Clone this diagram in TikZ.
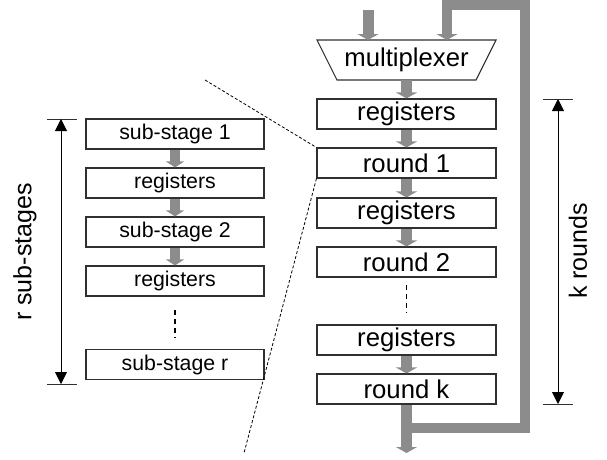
\documentclass[tikz,border=0pt]{standalone}
\usepackage{fontspec}
\setmainfont{Liberation Sans}
\usetikzlibrary{arrows.meta}
\definecolor{pipegray}{HTML}{8C8C8C}
\definecolor{boxline}{HTML}{303030}
\tikzset{
  bigbox/.style={draw=boxline, line width=1.1pt, minimum width=179pt, minimum height=30pt, inner sep=0pt, font=\fontsize{25.7}{30}\selectfont},
  smallbox/.style={draw=boxline, line width=1.1pt, minimum width=178pt, minimum height=30pt, inner sep=0pt, font=\fontsize{21.3}{25}\selectfont},
  bigflow/.style={draw=pipegray, line width=11pt, -{Triangle[width=21pt,length=6pt]}},
  smallflow/.style={draw=pipegray, line width=10pt, -{Triangle[width=18pt,length=6pt]}},
  pipe/.style={draw=pipegray, line width=10pt, line join=miter},
  dimline/.style={draw=black, line width=0.9pt, {Triangle[width=12pt,length=12pt]}-{Triangle[width=12pt,length=12pt]}},
  tick/.style={draw=boxline, line width=1pt},
  zoomline/.style={draw=black, line width=0.8pt, dash pattern=on 3pt off 2pt},
  dotsline/.style={draw=black, line width=1.8pt, dash pattern=on 5pt off 4pt},
  dimtext/.style={rotate=90, inner sep=0pt, font=\fontsize{25}{30}\selectfont}
}
\begin{document}
\begin{tikzpicture}[x=1pt,y=-1pt]
\useasboundingbox (0,0) rectangle (607,459);

% ---------- right column ----------
\draw[line width=1.1pt, draw=boxline] (317,40) -- (496,40) -- (476,80) -- (337,80) -- cycle;
\node[inner sep=0pt, minimum width=179pt, minimum height=40pt, font=\fontsize{25.7}{30}\selectfont] (mux) at (406.5,60) {multiplexer};
\node[bigbox] (rreg1) at (406.5,114) {registers};
\node[bigbox] (round1) at (406.5,163) {round 1};
\node[bigbox] (rreg2) at (406.5,213) {registers};
\node[bigbox] (round2) at (406.5,262) {round 2};
\node[bigbox] (rreg3) at (406.5,340) {registers};
\node[bigbox] (roundk) at (406.5,389) {round k};

\coordinate (rdotsA) at (406.5,285);
\coordinate (rdotsB) at (406.5,313);
\draw[dotsline] (rdotsA) -- (rdotsB);

\coordinate (inA) at (368,10);
\coordinate (inB) at (368,40);
\coordinate (fbIn) at (447,40);
\coordinate (fbTopL) at (447,5);
\coordinate (fbTopR) at (525,5);
\coordinate (fbBotR) at (525,428);
\coordinate (fbBotL) at (406.5,428);
\coordinate (out) at (406.5,453);

\draw[bigflow] (inA) -- (inB);
\draw[bigflow] (mux.south) -- (rreg1.north);
\draw[bigflow] (rreg1.south) -- (round1.north);
\draw[bigflow] (round1.south) -- (rreg2.north);
\draw[bigflow] (rreg2.south) -- (round2.north);
\draw[bigflow] (rreg3.south) -- (roundk.north);
\draw[bigflow] (roundk.south) -- (out);
\draw[pipe] (fbBotL) -- (fbBotR) -- (fbTopR) -- (fbTopL) -- ++(0,29);
\draw[pipe, -{Triangle[width=21pt,length=6pt]}] (447,20) -- (fbIn);

% k rounds dimension
\coordinate (kTop) at (558,99);
\coordinate (kBot) at (558,404);
\coordinate (kTopL) at (543,99);
\coordinate (kTopR) at (573,99);
\coordinate (kBotL) at (543,404);
\coordinate (kBotR) at (573,404);
\draw[tick] (kTopL) -- (kTopR);
\draw[tick] (kBotL) -- (kBotR);
\draw[dimline] (kTop) -- (kBot);
\node[dimtext] (klabel) at (578,251) {k rounds};

% ---------- left column ----------
\node[smallbox] (ss1) at (175,134) {sub-stage 1};
\node[smallbox] (lreg1) at (175,183) {registers};
\node[smallbox] (ss2) at (175,232) {sub-stage 2};
\node[smallbox] (lreg2) at (175,281) {registers};
\node[smallbox] (ssr) at (175,364.5) {sub-stage r};

\coordinate (ldotsA) at (175,310);
\coordinate (ldotsB) at (175,338);
\draw[dotsline] (ldotsA) -- (ldotsB);

\draw[smallflow] (ss1.south) -- (lreg1.north);
\draw[smallflow] (lreg1.south) -- (ss2.north);
\draw[smallflow] (ss2.south) -- (lreg2.north);

% r sub-stages dimension
\coordinate (rTop) at (61,119);
\coordinate (rBot) at (61,384);
\coordinate (rTopL) at (47,119);
\coordinate (rTopR) at (77,119);
\coordinate (rBotL) at (47,384);
\coordinate (rBotR) at (77,384);
\draw[tick] (rTopL) -- (rTopR);
\draw[tick] (rBotL) -- (rBotR);
\draw[dimline] (rTop) -- (rBot);
\node[dimtext] (rlabel) at (25,252) {r sub-stages};

% zoom lines
\coordinate (zA) at (205,80);
\coordinate (zB) at (244,453);
\draw[zoomline] (zA) -- (round1.north west);
\draw[zoomline] (round1.south west) -- (zB);
\end{tikzpicture}
\end{document}
